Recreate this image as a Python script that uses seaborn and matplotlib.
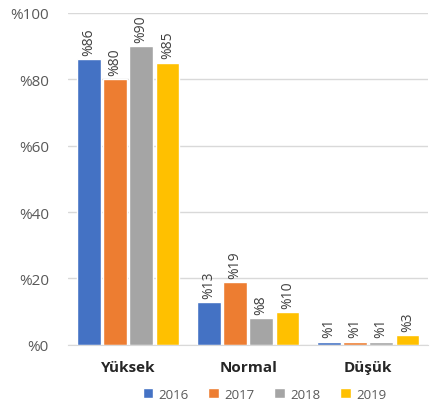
import pandas as pd
import matplotlib.pyplot as plt
import seaborn as sns

# Veriler
kategoriler = ['Yüksek', 'Normal', 'Düşük']
yillar = ['2016', '2017', '2018', '2019']
degerler_2016 = [86, 13, 1]
degerler_2017 = [80, 19, 1]
degerler_2018 = [90, 8, 1]
degerler_2019 = [85, 10, 3]
renkler = ['#4472C4', '#ED7D31', '#A5A5A5', '#FFC000']

df = pd.DataFrame({
    'kategori': kategoriler * 4,
    'yil': [y for y in yillar for _ in kategoriler],
    'deger': degerler_2016 + degerler_2017 + degerler_2018 + degerler_2019,
})

sns.set_style('white')
plt.rcParams['font.family'] = ['Open Sans', 'DejaVu Sans']

fig = plt.figure(figsize=(4.4, 4.06), dpi=100)
ax = fig.add_axes([0.155, 0.148, 0.818, 0.818])

sns.barplot(data=df, x='kategori', y='deger', hue='yil', palette=renkler,
            saturation=1, width=0.87, gap=0.1, ax=ax, legend=True)

for cont in ax.containers:
    ax.bar_label(cont, labels=['%' + str(int(v)) for v in cont.datavalues],
                 rotation=90, padding=3, fontsize=10, color='#404040')

ax.set_ylim(0, 100)
ax.set_yticks([0, 20, 40, 60, 80, 100])
ax.set_yticklabels(['%' + str(t) for t in [0, 20, 40, 60, 80, 100]],
                   fontsize=11, color='#595959')
ax.set_xticks(range(len(kategoriler)))
ax.set_xticklabels(kategoriler, fontsize=11, fontweight='bold', color='#262626')
ax.tick_params(axis='both', length=0)
ax.tick_params(axis='x', pad=11)
ax.tick_params(axis='y', pad=14)
ax.set_xlabel('')
ax.set_ylabel('')
ax.set_xlim(-0.5, 2.5)
ax.yaxis.grid(True, color='#D9D9D9', linewidth=1)
ax.set_axisbelow(True)
for s in ['top', 'right', 'left']:
    ax.spines[s].set_visible(False)
ax.spines['bottom'].set_color('#D9D9D9')

ax.legend(loc='upper center', bbox_to_anchor=(0.545, -0.105), ncol=4, frameon=False,
          fontsize=9.5, handlelength=0.8, handleheight=0.8, handletextpad=0.4,
          columnspacing=1.5, labelcolor='#595959', borderaxespad=0.2)

plt.savefig('out.png', dpi=100)
